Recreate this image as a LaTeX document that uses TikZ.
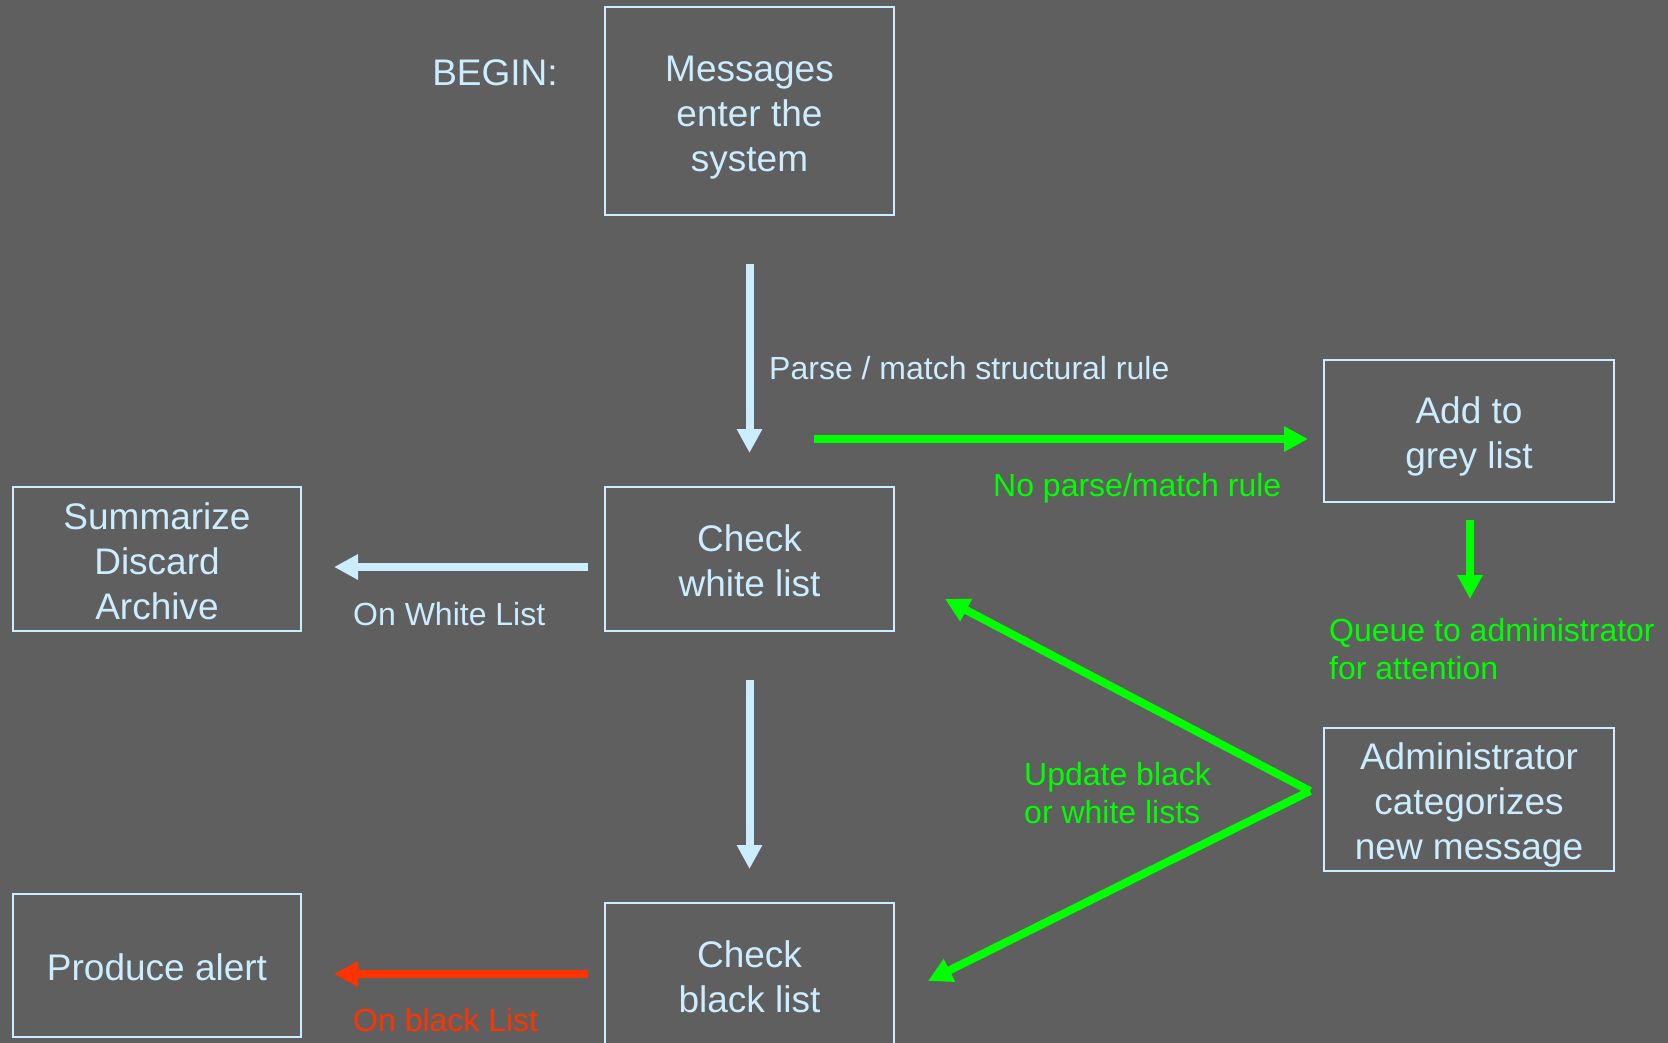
\documentclass[tikz,border=0pt]{standalone}
\usepackage{fontspec}
\setmainfont{Liberation Sans}
\usetikzlibrary{arrows.meta}
\definecolor{bg}{HTML}{5F5F5F}
\definecolor{lblue}{HTML}{CCECFF}
\definecolor{lgreen}{HTML}{00FF00}
\definecolor{lred}{HTML}{FF3300}
\newcommand{\topstrut}[1]{\rule{0pt}{#1}}
\tikzset{
  box/.style={draw=lblue, line width=2pt, text=lblue, align=center, inner sep=0pt,
    font=\fontsize{37}{45}\selectfont},
  lbl/.style={inner sep=0pt, anchor=west, align=left, font=\fontsize{32}{37.5}\selectfont},
  arr/.style={line width=8pt, -{Triangle[width=24pt,length=24pt]}},
  bluearr/.style={arr, draw=lblue},
  greenarr/.style={arr, draw=lgreen},
  redarr/.style={arr, draw=lred},
}
\begin{document}
\begin{tikzpicture}[x=1pt,y=-1pt]
\fill[bg] (0,0) rectangle (1668,1043);
\useasboundingbox (0,0) rectangle (1668,1043);
\begin{scope}
\clip (0,0) rectangle (1668,1043);
\node[box, minimum width=289pt, minimum height=208pt] (msg) at (749.5,111) {\topstrut{38pt}Messages\\enter the\\system};
\node[box, minimum width=289pt, minimum height=144pt] (cw) at (749.5,559) {\topstrut{31pt}Check\\white list};
\node[box, minimum width=289pt, minimum height=144pt] (cb) at (749.5,975) {\topstrut{31pt}Check\\black list};
\node[box, minimum width=288pt, minimum height=144pt] (summ) at (157,559) {\topstrut{31pt}Summarize\\Discard\\Archive};
\node[box, minimum width=288pt, minimum height=143pt] (alert) at (157,965.5) {\topstrut{31pt}Produce alert};
\node[box, minimum width=290pt, minimum height=142pt] (grey) at (1469,431) {\topstrut{38pt}Add to\\grey list};
\node[box, minimum width=290pt, minimum height=143pt] (adm) at (1469,799.5) {\topstrut{38pt}Administrator\\categorizes\\new message};
\end{scope}

\node[text=lblue, inner sep=0pt, font=\fontsize{37}{45}\selectfont] (begin) at (495,73) {BEGIN:};

\node[lbl, text=lblue] (parse) at (769,368) {Parse / match structural rule};
\node[lbl, text=lgreen] (nomatch) at (993,488) {No parse/match rule};
\node[lbl, text=lblue] (onwhite) at (353,614) {On White List};
\node[lbl, text=lred] (onblack) at (353,1020) {On black List};
\node[lbl, text=lgreen] (queue) at (1329,649) {Queue to administrator\\for attention};
\node[lbl, text=lgreen] (update) at (1024,793) {Update black\\or white lists};

\coordinate (gstart) at (814,439);
\coordinate (qtip) at (1470,599);
\coordinate (apex) at (1310,791);

\draw[bluearr, shorten <=48pt, shorten >=33pt] (msg.south) -- (cw.north);
\draw[bluearr, shorten <=48pt, shorten >=33pt] (cw.south) -- (cb.north);
\draw[bluearr] ([shift={(-16pt,-8pt)}]cw.west) -- ([shift={(32pt,-8pt)}]summ.east);
\draw[redarr] ([shift={(-16pt,1pt)}]cb.west) -- ([shift={(32pt,-8.5pt)}]alert.east);
\draw[greenarr] (gstart) -- ([shift={(-15pt,-8pt)}]grey.west);
\draw[greenarr] ([shift={(1pt,-17pt)}]grey.south) -- (qtip);
\draw[greenarr] (apex) -- ([shift={(50pt,-40pt)}]cw.east);
\draw[greenarr] (apex) -- ([shift={(33pt,-6pt)}]cb.east);
\end{tikzpicture}
\end{document}
